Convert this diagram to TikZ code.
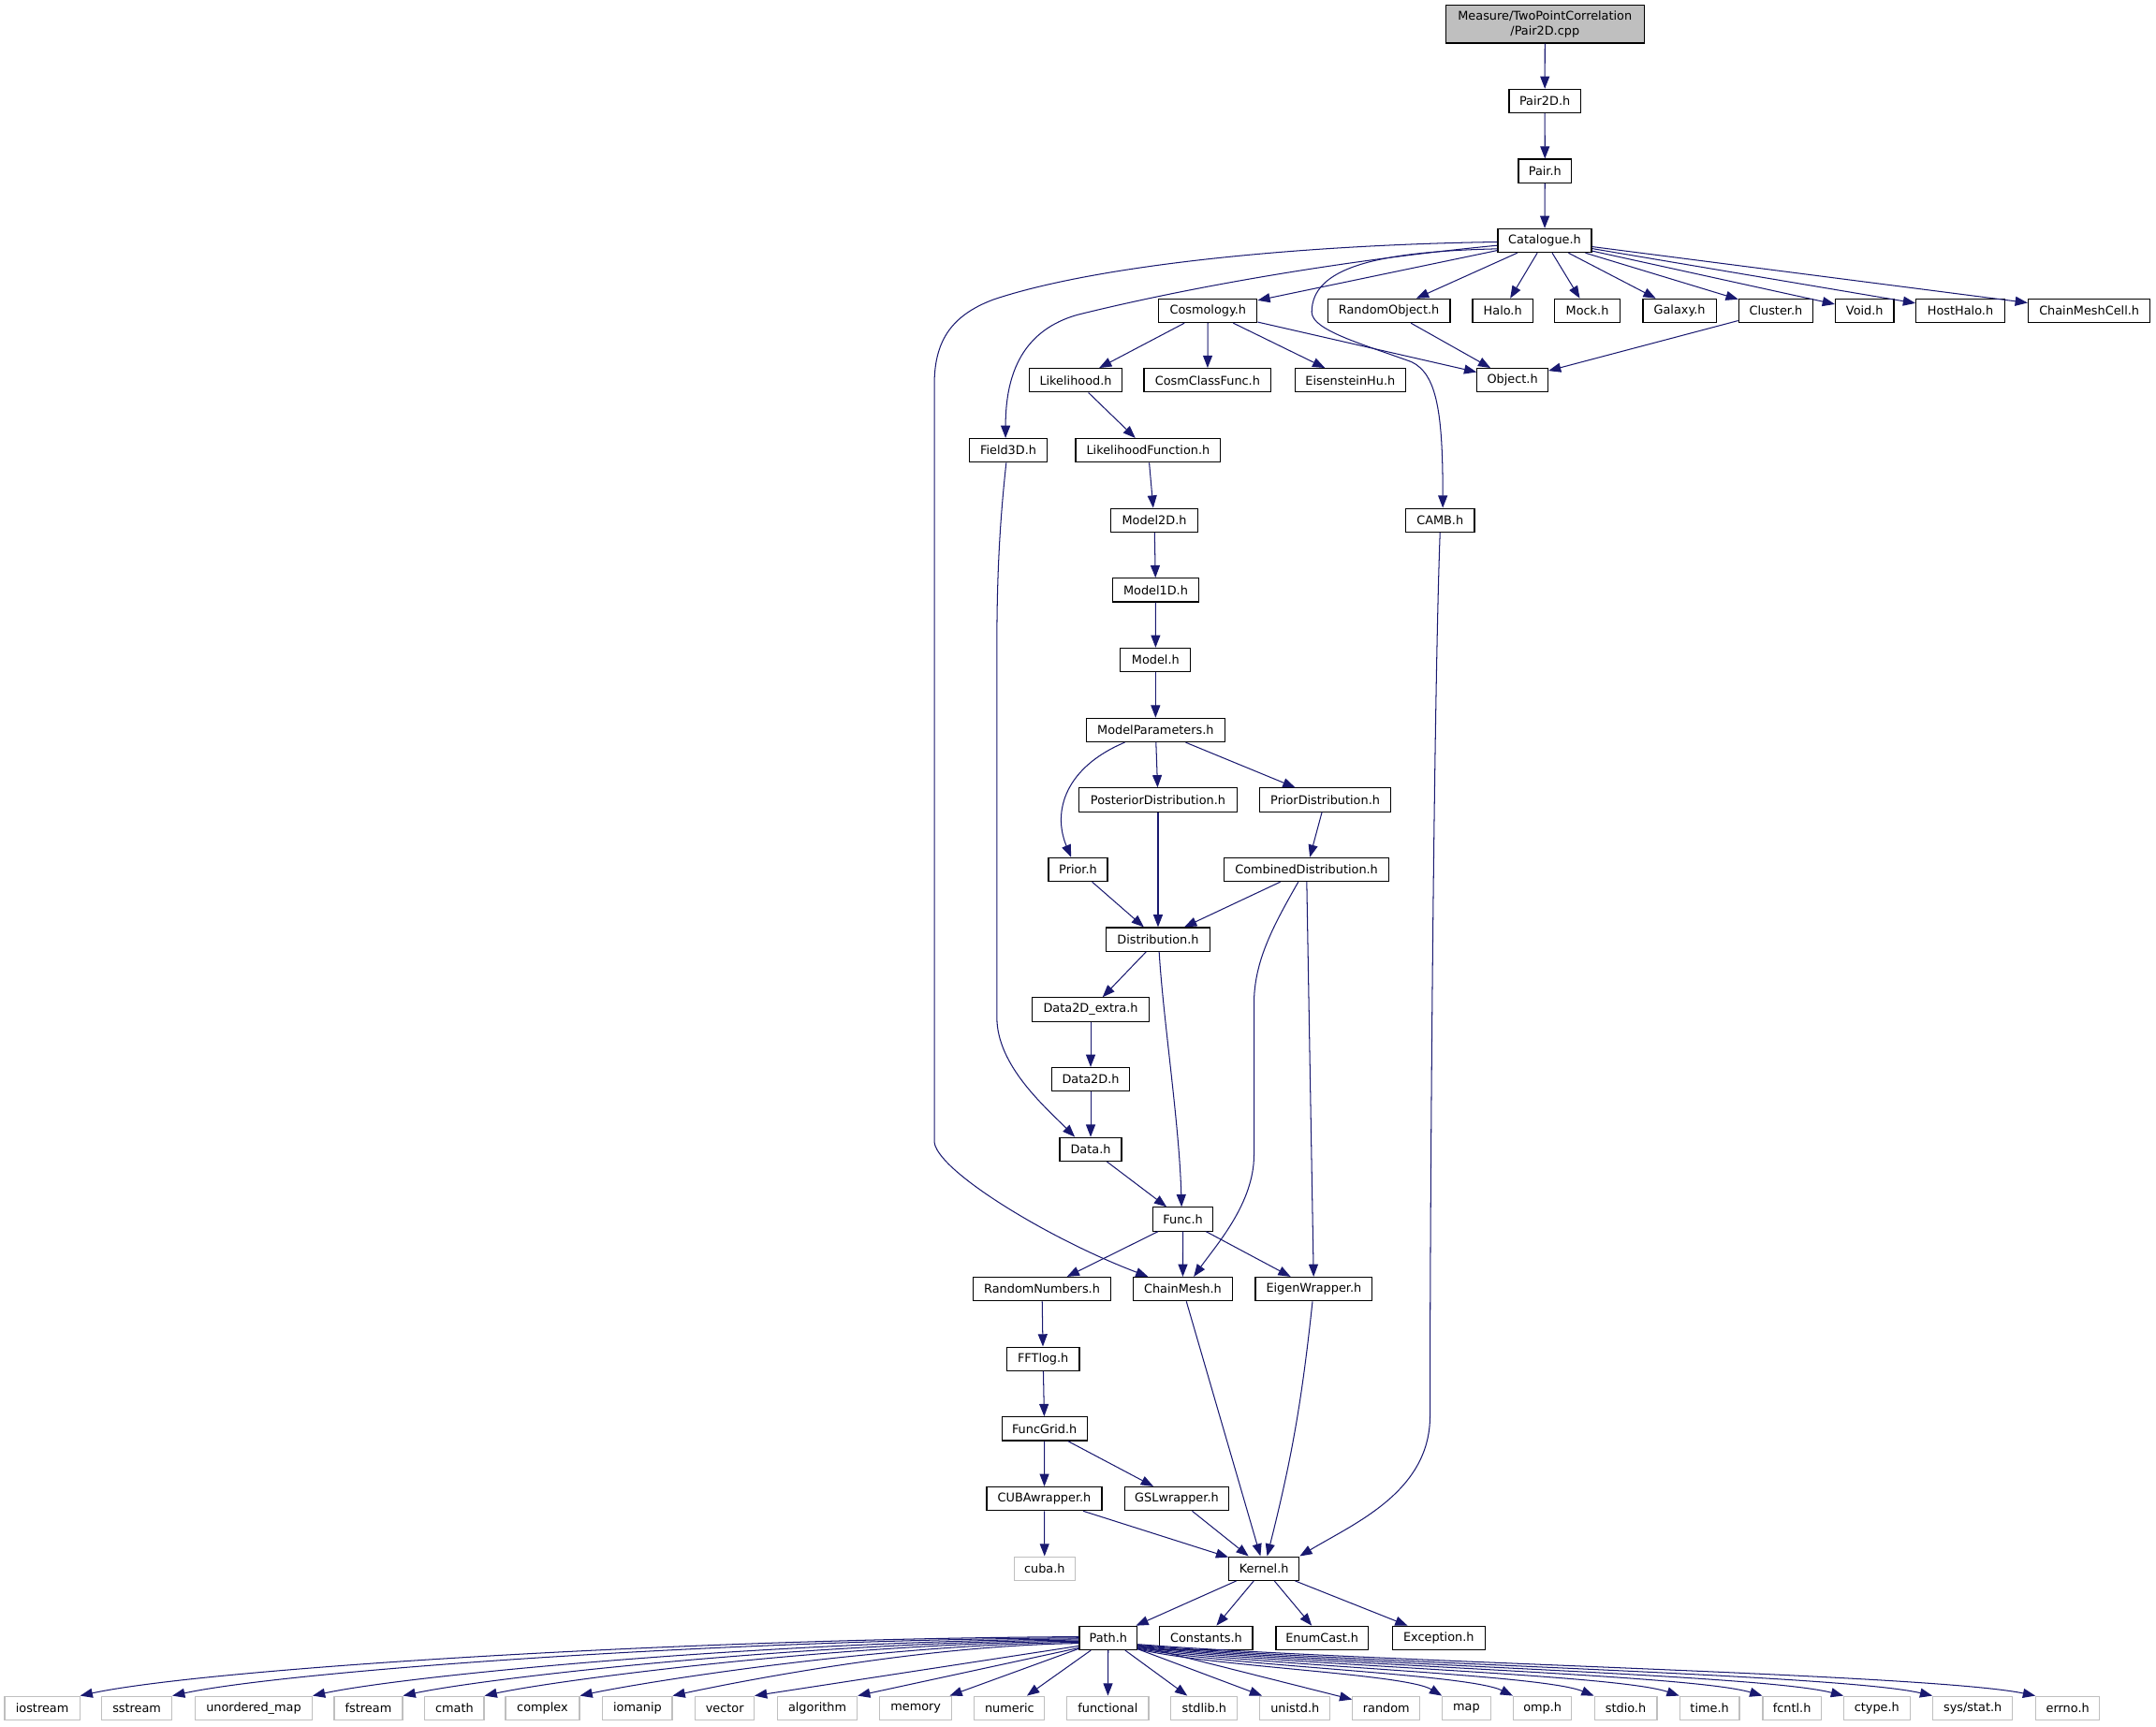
\documentclass[tikz,border=0pt]{standalone}
\usepackage{fontspec}
\setmainfont{DejaVu Sans}
\usetikzlibrary{arrows.meta,calc}
\definecolor{edgeblue}{HTML}{191970}
\definecolor{boxgrey}{HTML}{BFBFBF}
\begin{document}
\begin{tikzpicture}[x=1pt,y=-1pt,
  box/.style={draw=black, line width=0.8pt, fill=white, minimum height=17.2pt, inner sep=0pt,
    font=\fontsize{8.75}{10.7}\selectfont},
  sysbox/.style={box, draw=boxgrey},
  edge/.style={draw=edgeblue, line width=0.7pt, -{Triangle[length=9pt,width=6.8pt]}}]
\useasboundingbox[fill=white] (0,0) rectangle (1568,1255.5);
% ---- nodes
\node[box, fill=boxgrey, minimum width=144.2pt, minimum height=27.4pt, align=center] (cpp) at (1123.6,17.6) {Measure/TwoPointCorrelation\\/Pair2D.cpp};
\node[box, minimum width=52pt] (pair2d) at (1123.5,73.5) {Pair2D.h};
\node[box, minimum width=38.6pt] (pair) at (1123.6,124.4) {Pair.h};
\node[box, minimum width=68pt] (catalogue) at (1123.4,175) {Catalogue.h};
\node[box, minimum width=71.5pt] (cosmology) at (878.5,226) {Cosmology.h};
\node[box, minimum width=89pt] (randomobject) at (1010.1,226) {RandomObject.h};
\node[box, minimum width=43.8pt] (halo) at (1092.9,226) {Halo.h};
\node[box, minimum width=47.3pt] (mock) at (1154.4,226) {Mock.h};
\node[box, minimum width=53.2pt] (galaxy) at (1221.5,226) {Galaxy.h};
\node[box, minimum width=53.9pt] (cluster) at (1291.5,226) {Cluster.h};
\node[box, minimum width=42.6pt] (voidh) at (1356.1,226) {Void.h};
\node[box, minimum width=64.5pt] (hosthalo) at (1425.7,226) {HostHalo.h};
\node[box, minimum width=88.8pt] (chainmeshcell) at (1519.4,226) {ChainMeshCell.h};
\node[box, minimum width=67.5pt] (likelihood) at (782.3,276.6) {Likelihood.h};
\node[box, minimum width=92.4pt] (cosmclass) at (878.2,276.6) {CosmClassFunc.h};
\node[box, minimum width=80.5pt] (eisenstein) at (982,276.6) {EisensteinHu.h};
\node[box, minimum width=51.5pt] (object) at (1100,276.6) {Object.h};
\node[box, minimum width=56.5pt] (field3d) at (733.3,327.6) {Field3D.h};
\node[box, minimum width=105.5pt] (likefunc) at (835,327.6) {LikelihoodFunction.h};
\node[box, minimum width=63pt] (model2d) at (839.5,378.4) {Model2D.h};
\node[box, minimum width=50pt] (camb) at (1047.3,378.4) {CAMB.h};
\node[box, minimum width=63pt] (model1d) at (840.5,429.2) {Model1D.h};
\node[box, minimum width=51pt] (model) at (840.4,480) {Model.h};
\node[box, minimum width=101pt] (modelparams) at (840.4,531) {ModelParameters.h};
\node[box, minimum width=114.6pt] (posterior) at (842.2,581.8) {PosteriorDistribution.h};
\node[box, minimum width=95.6pt] (priordist) at (963.8,581.8) {PriorDistribution.h};
\node[box, minimum width=42.9pt] (prior) at (784,632.5) {Prior.h};
\node[box, minimum width=120pt] (combined) at (950.2,632.5) {CombinedDistribution.h};
\node[box, minimum width=75.6pt] (distribution) at (842.2,683.3) {Distribution.h};
\node[box, minimum width=84.6pt] (data2dextra) at (793.2,734.3) {Data2D\_extra.h};
\node[box, minimum width=56.4pt] (data2d) at (793.2,785.1) {Data2D.h};
\node[box, minimum width=44.9pt] (data) at (793.2,836) {Data.h};
\node[box, minimum width=43.8pt] (func) at (860.3,886.8) {Func.h};
\node[box, minimum width=100pt] (randomnumbers) at (757.8,937.6) {RandomNumbers.h};
\node[box, minimum width=72.6pt] (chainmesh) at (860.2,937.6) {ChainMesh.h};
\node[box, minimum width=84.9pt] (eigen) at (955.5,937.6) {EigenWrapper.h};
\node[box, minimum width=52.9pt] (fftlog) at (758.6,988.4) {FFTlog.h};
\node[box, minimum width=62pt] (funcgrid) at (759.6,1039.2) {FuncGrid.h};
\node[box, minimum width=83.7pt] (cubawrapper) at (759.5,1090.1) {CUBAwrapper.h};
\node[box, minimum width=75.6pt] (gsl) at (855.8,1090.1) {GSLwrapper.h};
\node[sysbox, minimum width=44.4pt] (cuba) at (759.7,1140.9) {cuba.h};
\node[box, minimum width=51.1pt] (kernel) at (919.3,1140.9) {Kernel.h};
\node[box, minimum width=42pt] (pathh) at (806,1191.4) {Path.h};
\node[box, minimum width=67.5pt] (constants) at (877.2,1191.4) {Constants.h};
\node[box, minimum width=67pt] (enumcast) at (961.5,1191.4) {EnumCast.h};
\node[box, minimum width=67.3pt] (exception) at (1046.3,1191.4) {Exception.h};
% bottom row
\node[sysbox, minimum width=54.5pt] (iostream) at (30.7,1242.4) {iostream};
\node[sysbox, minimum width=51pt] (sstream) at (99.5,1242.4) {sstream};
\node[sysbox, minimum width=85pt] (umap) at (184.5,1242.4) {unordered\_map};
\node[sysbox, minimum width=49.7pt] (fstream) at (267.9,1242.4) {fstream};
\node[sysbox, minimum width=43pt] (cmath) at (330.5,1242.4) {cmath};
\node[sysbox, minimum width=53.8pt] (complex) at (394.5,1242.4) {complex};
\node[sysbox, minimum width=50.4pt] (iomanip) at (463.6,1242.4) {iomanip};
\node[sysbox, minimum width=42.6pt] (vector) at (527.1,1242.4) {vector};
\node[sysbox, minimum width=58pt] (algorithm) at (594.4,1242.4) {algorithm};
\node[sysbox, minimum width=52.4pt] (memory) at (666,1242.4) {memory};
\node[sysbox, minimum width=51.1pt] (numeric) at (734.2,1242.4) {numeric};
\node[sysbox, minimum width=59.3pt] (functional) at (805.7,1242.4) {functional};
\node[sysbox, minimum width=48.4pt] (stdlib) at (875.8,1242.4) {stdlib.h};
\node[sysbox, minimum width=51pt] (unistd) at (941.8,1242.4) {unistd.h};
\node[sysbox, minimum width=49pt] (random) at (1008.2,1242.4) {random};
\node[sysbox, minimum width=35pt] (maph) at (1066.5,1242.4) {map};
\node[sysbox, minimum width=42.4pt] (omp) at (1121.8,1242.4) {omp.h};
\node[sysbox, minimum width=45.5pt] (stdio) at (1182.3,1242.4) {stdio.h};
\node[sysbox, minimum width=43.4pt] (timeh) at (1243.3,1242.4) {time.h};
\node[sysbox, minimum width=42.4pt] (fcntl) at (1303.2,1242.4) {fcntl.h};
\node[sysbox, minimum width=48pt] (ctype) at (1365,1242.4) {ctype.h};
\node[sysbox, minimum width=57.9pt] (sysstat) at (1434.7,1242.4) {sys/stat.h};
\node[sysbox, minimum width=46.4pt] (errno) at (1503.8,1242.4) {errno.h};
% ---- edges
\draw[edge] (cpp) -- (pair2d);
\draw[edge] (pair2d) -- (pair);
\draw[edge] (pair) -- (catalogue);
\foreach \t in {cosmology,randomobject,halo,mock,galaxy,cluster,voidh,hosthalo,chainmeshcell}
  \draw[edge] (catalogue) -- (\t);
\foreach \t in {likelihood,cosmclass,eisenstein,object}
  \draw[edge] (cosmology) -- (\t);
\draw[edge] (randomobject) -- (object);
\draw[edge] (cluster) -- (object);
% Catalogue -> ChainMesh
\draw[edge] ($(catalogue.west)+(0,1)$) .. controls (950,178) and (800,192) .. (722.7,217.8)
  .. controls (690,230) and (679.5,250) .. (679.5,280) -- (679.5,830)
  .. controls (679.5,850) and (760,900) .. ($(chainmesh.north)+(-25.2,0)$);
% Catalogue -> Field3D
\draw[edge] ($(catalogue.west)+(0,3.5)$) .. controls (970,190) and (860,210) .. (783.5,229)
  .. controls (745,240) and (731.3,270) .. ($(field3d.north)+(-2,0)$);
% Catalogue -> CAMB
\draw[edge] ($(catalogue.west)+(0,6)$) .. controls (1000,183) and (954,195) .. (954,227)
  .. controls (954,240) and (990,250) .. (1026.5,263.2)
  .. controls (1045,272) and (1049.3,300) .. ($(camb.north)+(2,0)$);
% Cosmology chain
\draw[edge] (likelihood) -- (likefunc);
\draw[edge] (likefunc) -- (model2d);
\draw[edge] (model2d) -- (model1d);
\draw[edge] (model1d) -- (model);
\draw[edge] (model) -- (modelparams);
\draw[edge] (modelparams) -- (posterior);
\draw[edge] (modelparams) -- (priordist);
\draw[edge] ($(modelparams.south)+(-22.4,0)$) .. controls (775,558) and (765,590) .. ($(prior.north)+(-5,0)$);
\draw[edge] (priordist) -- (combined);
\draw[edge] (prior) -- (distribution);
\draw[edge] (posterior) -- (distribution);
\draw[edge] (combined) -- (distribution);
\draw[edge] (combined) -- (eigen);
\draw[edge] ($(combined.south)+(-6,0)$) .. controls (925,675) and (912,700) .. (912,730) -- (912,840)
  .. controls (912,875) and (885,905) .. ($(chainmesh.north)+(8,0)$);
\draw[edge] (distribution) -- (data2dextra);
\draw[edge] ($(distribution.south)+(0.8,0)$) .. controls +(3,50) and +(-1.5,-60) .. ($(func.north)+(-1,0)$);
\draw[edge] (data2dextra) -- (data2d);
\draw[edge] (data2d) -- (data);
\draw[edge] ($(field3d.south)+(-1.5,0)$) .. controls (727,380) and (725,420) .. (725,470) -- (725,740)
  .. controls (725,775) and (760,805) .. ($(data.north)+(-11.5,0)$);
\draw[edge] (data) -- (func);
\draw[edge] (func) -- (randomnumbers);
\draw[edge] (func) -- (chainmesh);
\draw[edge] (func) -- (eigen);
\draw[edge] (randomnumbers) -- (fftlog);
\draw[edge] (fftlog) -- (funcgrid);
\draw[edge] (funcgrid) -- (cubawrapper);
\draw[edge] (funcgrid) -- (gsl);
\draw[edge] (cubawrapper) -- (cuba);
\draw[edge] (cubawrapper) -- (kernel);
\draw[edge] (gsl) -- (kernel);
\draw[edge] (chainmesh) -- (kernel);
\draw[edge] (eigen) to[bend left=4] (kernel);
\draw[edge] (camb.south) .. controls (1043,500) and (1040,850) .. (1040,1030)
  .. controls (1040,1085) and (985,1108) .. (kernel.north east);
\foreach \t in {pathh,constants,enumcast,exception}
  \draw[edge] (kernel) -- (\t);
% Path -> left targets
\draw[edge] ($(pathh.west)+(0,-0.9)$) .. controls +(-290.8,1.5) and +(90.9,-19.6) .. (iostream.north east);
\draw[edge] ($(pathh.west)+(0,-0.1)$) .. controls +(-264,1.5) and +(82.5,-17.8) .. (sstream.north east);
\draw[edge] ($(pathh.west)+(0,0.7)$) .. controls +(-223.2,1.5) and +(69.8,-15.1) .. (umap.north east);
\draw[edge] ($(pathh.west)+(0,1.5)$) .. controls +(-196.9,1.5) and +(61.5,-13.3) .. (fstream.north east);
\draw[edge] ($(pathh.west)+(0,2.3)$) .. controls +(-173.2,1.5) and +(54.1,-11.7) .. (cmath.north east);
\draw[edge] ($(pathh.west)+(0,3.1)$) .. controls +(-145.4,1.5) and +(45.5,-9.8) .. (complex.north east);
\draw[edge] ($(pathh.west)+(0,3.9)$) .. controls +(-118.5,1.5) and +(37,-8) .. (iomanip.north east);
\draw[edge] ($(pathh.west)+(0,5.8)$) -- (vector.north east);
\draw[edge] ($(pathh.west)+(0,7.2)$) -- (algorithm.north east);
\foreach \t in {memory,numeric,functional,stdlib,unistd,random}
  \draw[edge] (pathh) -- (\t);
% Path -> right targets
\draw[edge] ($(pathh.east)+(0,8.1)$) .. controls +(55.5,13) and +(-26.6,-16) .. (maph.north west);
\draw[edge] ($(pathh.east)+(0,7.6)$) .. controls +(68.4,13) and +(-32.8,-16) .. (omp.north west);
\draw[edge] ($(pathh.east)+(0,7.1)$) .. controls +(83.1,13) and +(-39.9,-16) .. (stdio.north west);
\draw[edge] ($(pathh.east)+(0,6.6)$) .. controls +(98.7,13) and +(-47.4,-16) .. (timeh.north west);
\draw[edge] ($(pathh.east)+(0,6.1)$) .. controls +(113.8,13) and +(-54.6,-16) .. (fcntl.north west);
\draw[edge] ($(pathh.east)+(0,5.6)$) .. controls +(128.5,13) and +(-61.7,-16) .. (ctype.north west);
\draw[edge] ($(pathh.east)+(0,5.1)$) .. controls +(144.7,13) and +(-69.4,-16) .. (sysstat.north west);
\draw[edge] ($(pathh.east)+(0,4.6)$) .. controls +(163.4,13) and +(-78.4,-16) .. (errno.north west);
\end{tikzpicture}
\end{document}
